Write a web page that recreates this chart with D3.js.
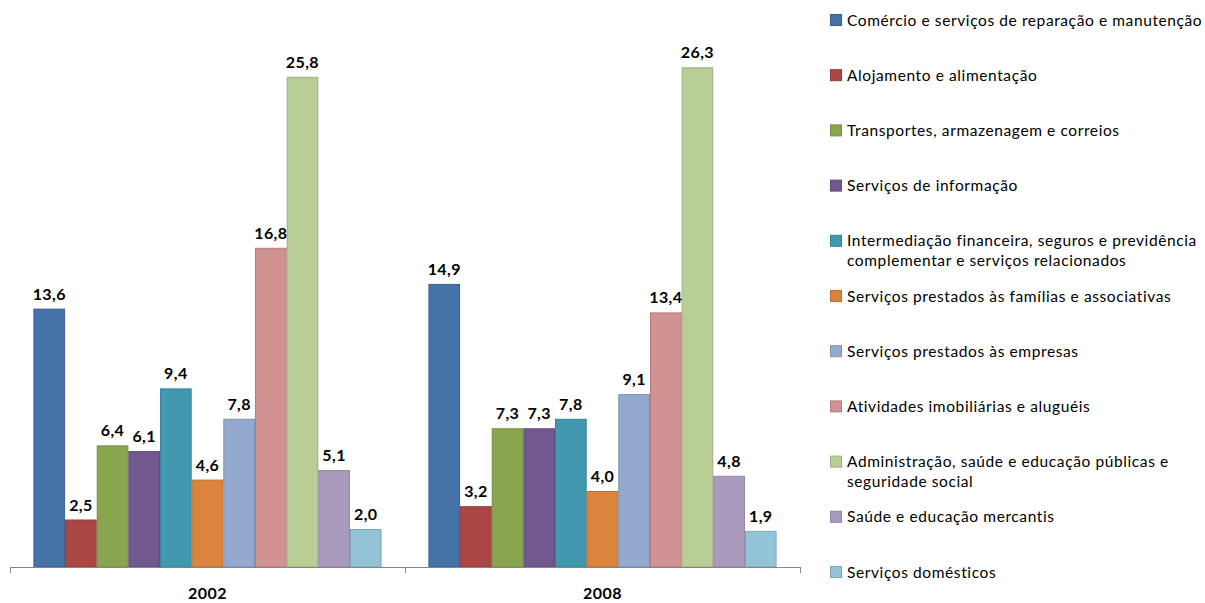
<!DOCTYPE html>
<html>
<head>
<meta charset="utf-8">
<script src="https://cdn.jsdelivr.net/npm/d3@7"></script>
<style>
  html, body { margin: 0; padding: 0; background: #fff; }
  svg { display: block; font-family: Lato, "Open Sans", sans-serif; }
</style>
</head>
<body>
<svg id="chart" width="1205" height="603"></svg>
<script>
// Anos (grupos do eixo X)
const years = ["2002", "2008"];

// Setores de atividade (séries)
const sectors = [
  "Comércio e serviços de reparação e manutenção",
  "Alojamento e alimentação",
  "Transportes, armazenagem e correios",
  "Serviços de informação",
  "Intermediação financeira, seguros e previdência|complementar e serviços relacionados",
  "Serviços prestados às famílias e associativas",
  "Serviços prestados às empresas",
  "Atividades imobiliárias e aluguéis",
  "Administração, saúde e educação públicas e|seguridade social",
  "Saúde e educação mercantis",
  "Serviços domésticos"
];

// Participação (%) por setor em cada ano
const values2002 = [13.6, 2.5, 6.4, 6.1, 9.4, 4.6, 7.8, 16.8, 25.8, 5.1, 2.0];
const values2008 = [14.9, 3.2, 7.3, 7.3, 7.8, 4.0, 9.1, 13.4, 26.3, 4.8, 1.9];

const colors = ["#4572A7", "#AA4643", "#89A54E", "#71588F", "#4198AF", "#DB843D",
                "#93A9CF", "#D19392", "#B9CD96", "#A99BBD", "#93C4D5"];

const valuesByYear = { "2002": values2002, "2008": values2008 };

const svg = d3.select("#chart");

const plot = { left: 10, right: 800, base: 567 };

const x0 = d3.scaleBand().domain(years).range([plot.left, plot.right]).paddingInner(0).paddingOuter(0);
const x1 = d3.scaleBand().domain(d3.range(sectors.length)).range([0, x0.bandwidth()])
  .paddingInner(0).paddingOuter(0.74);
const y = d3.scaleLinear().domain([0, 28]).range([plot.base, plot.base - 28 * 19]);

const fmt = d3.formatLocale({ decimal: ",", thousands: ".", grouping: [3], currency: ["R$", ""] }).format(".1f");

// Barras
const groups = svg.append("g").selectAll("g")
  .data(years).join("g")
  .attr("transform", d => `translate(${x0(d)},0)`);

groups.selectAll("rect")
  .data(yr => valuesByYear[yr].map((v, i) => ({ v, i })))
  .join("rect")
  .attr("x", d => x1(d.i) + 0.5)
  .attr("y", d => y(d.v) + 0.5)
  .attr("width", x1.bandwidth() - 1)
  .attr("height", d => y(0) - y(d.v) - 0.5)
  .attr("fill", d => colors[d.i])
  .attr("stroke", d => d3.color(colors[d.i]).darker(0.45))
  .attr("stroke-width", 1);

// Rótulos de valor
groups.selectAll("text")
  .data(yr => valuesByYear[yr].map((v, i) => ({ v, i })))
  .join("text")
  .attr("x", d => x1(d.i) + x1.bandwidth() / 2)
  .attr("y", d => y(d.v) - 9)
  .attr("text-anchor", "middle")
  .attr("font-size", 16)
  .attr("font-weight", "bold")
  .attr("letter-spacing", 0.4)
  .attr("fill", "#000")
  .text(d => fmt(d.v));

// Eixo X com marcas nos limites das categorias
const xEdge = d3.scaleLinear().domain([0, years.length]).range([plot.left, plot.right]);
const axis = svg.append("g")
  .attr("transform", `translate(0,${plot.base})`)
  .call(d3.axisBottom(xEdge).tickValues(d3.range(years.length + 1)).tickSize(6).tickSizeOuter(0).tickFormat(""));
axis.select(".domain").attr("stroke", "#868686");
axis.selectAll(".tick line").attr("stroke", "#868686");

svg.append("g").selectAll("text")
  .data(years).join("text")
  .attr("x", d => x0(d) + x0.bandwidth() / 2)
  .attr("y", 599)
  .attr("text-anchor", "middle")
  .attr("font-size", 16)
  .attr("font-weight", "bold")
  .attr("letter-spacing", 0.5)
  .attr("fill", "#000")
  .text(d => d);

// Legenda
const legend = svg.append("g").selectAll("g")
  .data(sectors).join("g")
  .attr("transform", (d, i) => `translate(830,${20 + i * 55.2})`);

legend.append("rect")
  .attr("x", 0.5).attr("y", -5.5)
  .attr("width", 11).attr("height", 11)
  .attr("fill", (d, i) => colors[i])
  .attr("stroke", (d, i) => d3.color(colors[i]).darker(0.45));

legend.append("text")
  .attr("x", 17)
  .attr("y", 5.5)
  .attr("font-size", 15.5)
  .attr("letter-spacing", 0.6)
  .attr("fill", "#000")
  .selectAll("tspan")
  .data(d => d.split("|"))
  .join("tspan")
  .attr("x", 17)
  .attr("dy", (d, j) => j === 0 ? 0 : 20)
  .text(d => d);
</script>
</body>
</html>
